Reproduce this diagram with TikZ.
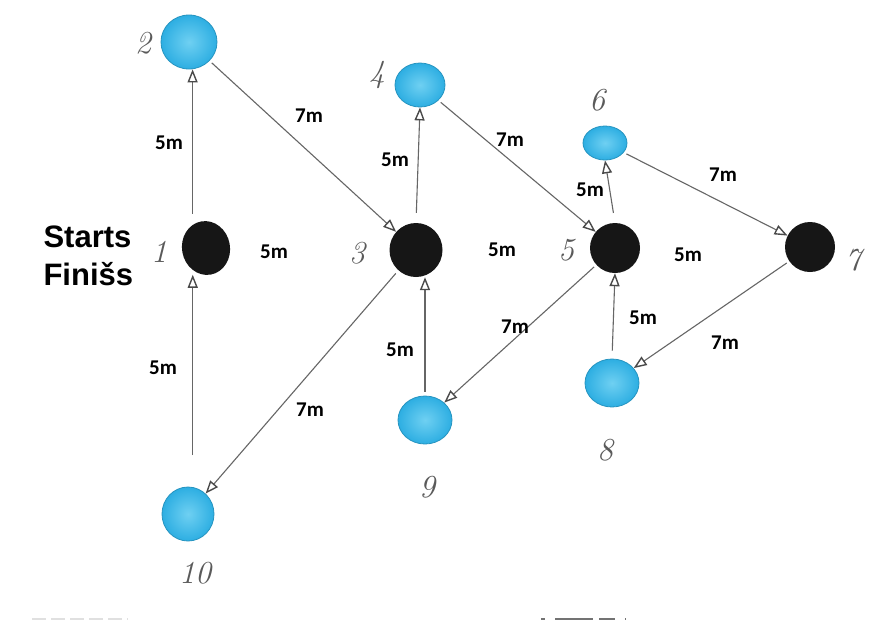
\documentclass[tikz,border=0pt]{standalone}
\usepackage{fontspec}
\usetikzlibrary{arrows.meta,shapes.geometric}
\newfontfamily\distfont{Carlito}
\newfontfamily\headfont{Liberation Sans}
\definecolor{dotblue}{HTML}{2DAEE2}
\definecolor{dotblueL}{HTML}{6FD0F2}
\definecolor{dotink}{HTML}{161616}
\definecolor{penline}{HTML}{666666}
\definecolor{pentip}{HTML}{4A4A4A}
\definecolor{pencil}{HTML}{5A5A5A}
\tikzset{
  bluedot/.style={ellipse, inner sep=0pt, draw=dotblue!85!black, line width=0.8pt,
    inner color=dotblueL, outer color=dotblue},
  blackdot/.style={ellipse, inner sep=0pt, fill=dotink},
  arr/.style={draw=penline, line width=1.1pt,
    -{Triangle[open, length=13pt, width=10pt, line width=1.4pt, color=pentip]}},
  dist/.style={font=\distfont\bfseries\fontsize{21}{21}\selectfont, text=black, inner sep=1pt},
  hand/.style={font=\itshape\fontsize{32}{32}\selectfont, text=pencil, inner sep=0pt},
  head/.style={font=\headfont\bfseries\fontsize{31}{31}\selectfont, text=black, align=left}
}
\begin{document}
\begin{tikzpicture}[x=1pt, y=-1pt]
\useasboundingbox[fill=white] (0,0) rectangle (875,630);

% course markers
\node[blackdot, minimum width=48pt, minimum height=54pt, rotate=10] (n1) at (206,248) {};
\node[bluedot, minimum width=56pt, minimum height=54pt] (n2) at (189,42) {};
\node[blackdot, minimum width=53pt, minimum height=54pt] (n3) at (416,250) {};
\node[bluedot, minimum width=50pt, minimum height=44pt] (n4) at (420,85) {};
\node[blackdot, minimum width=50pt, minimum height=50pt] (n5) at (615,248) {};
\node[bluedot, minimum width=44pt, minimum height=34pt] (n6) at (605,143) {};
\node[blackdot, minimum width=50pt, minimum height=50pt] (n7) at (810,247) {};
\node[bluedot, minimum width=54pt, minimum height=48pt] (n8) at (612,383) {};
\node[bluedot, minimum width=54pt, minimum height=48pt] (n9) at (425,420) {};
\node[bluedot, minimum width=52pt, minimum height=54pt] (n10) at (188,514) {};

% handwritten marker numbers
\node[hand] (h1) at (159,252) {1};
\node[hand] (h2) at (143,43) {2};
\node[hand] (h3) at (357,253) {3};
\node[hand] (h4) at (377,75) {4};
\node[hand] (h5) at (566,250) {5};
\node[hand] (h6) at (597,100) {6};
\node[hand] (h7) at (853,260) {7};
\node[hand] (h8) at (605,450) {8};
\node[hand] (h9) at (427,487) {9};
\node[hand] (h10) at (195,573) {10};

% start / finish
\node[head, anchor=west] (start) at (40,237) {Starts};
\node[head, anchor=west] (finish) at (40,274) {Finišs};

% route
\draw[arr, shorten <=11pt] (n1.110) -- (n1.110 |- n2.south);
\draw[arr, shorten <=3pt] (n2) -- (n3);
\draw[arr, shorten <=10pt] (n3.north) -- (n4.south);
\draw[arr, shorten <=3pt] (n4) -- (n5);
\draw[arr, shorten <=10pt] (n5.north) -- (n6.south);
\draw[arr, shorten <=3pt] (n6) -- (n7);
\draw[arr, shorten <=3pt] (n7) -- (n8);
\draw[arr, shorten <=8pt] (n8.north) -- (n5.south);
\draw[arr, shorten <=3pt] (n5) -- (n9);
\draw[arr, shorten <=4pt] (n9.north) -- (n9.north |- n3.south);
\draw[arr, shorten <=4pt] (n3) -- (n10);
\draw[arr, shorten <=32pt] (n10.80) -- (n10.80 |- n1.south);

% distances
\node[dist] (d12) at (169,143) {5m};
\node[dist] (d23) at (309,116) {7m};
\node[dist] (d13) at (274,252) {5m};
\node[dist] (d34) at (395,160) {5m};
\node[dist] (d45) at (510,140) {7m};
\node[dist] (d56) at (590,190) {5m};
\node[dist] (d67) at (723,175) {7m};
\node[dist] (d35) at (502,250) {5m};
\node[dist] (d57) at (688,255) {5m};
\node[dist] (d59) at (515,327) {7m};
\node[dist] (d85) at (643,318) {5m};
\node[dist] (d78) at (725,343) {7m};
\node[dist] (d101) at (163,368) {5m};
\node[dist] (d310) at (310,410) {7m};
\node[dist] (d93) at (400,350) {5m};

% faint strokes along the lower edge
\draw[black!12, line width=2pt, dash pattern=on 14pt off 5pt] (32,619) -- (128,619);
\draw[black!55, line width=2.2pt, dash pattern=on 4pt off 10pt on 38pt off 6pt on 12pt off 0pt] (541,619) -- (626,619);
\end{tikzpicture}
\end{document}
